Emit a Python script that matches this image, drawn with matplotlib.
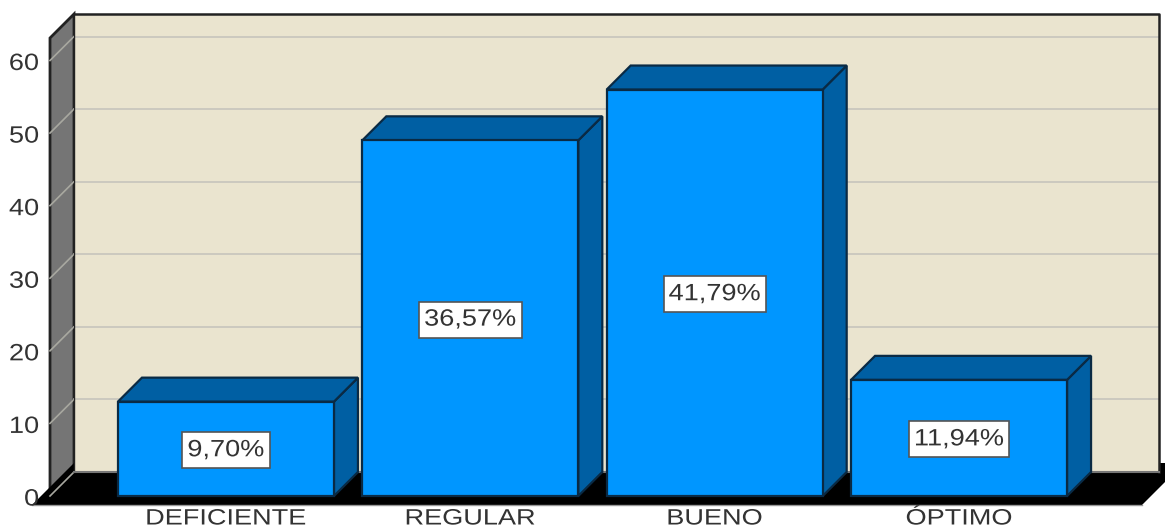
import matplotlib
matplotlib.use("Agg")
import matplotlib.pyplot as plt
from matplotlib.patches import Polygon, Rectangle
from matplotlib.patheffects import AbstractPathEffect
from matplotlib.transforms import Affine2D

categories = ["DEFICIENTE", "REGULAR", "BUENO", "ÓPTIMO"]
counts = [13, 49, 56, 16]
percent_labels = ["9,70%", "36,57%", "41,79%", "11,94%"]
y_ticks = [0, 10, 20, 30, 40, 50, 60]

W, H = 1165, 529
FRONT = "#0096FF"
DARK = "#005FA3"
WALL = "#EAE4CF"
SIDE = "#757575"
GRID = "#C6C4BC"
TEXT = "#333333"
STRETCH = 1.15

plt.rcParams["font.family"] = ["Liberation Sans", "DejaVu Sans"]


class Stretch(AbstractPathEffect):
    # the source image was scaled wider than tall, so widen the glyphs
    def __init__(self, sx, anchor=0.5):
        super().__init__()
        self.sx = sx
        self.anchor = anchor

    def draw_path(self, renderer, gc, tpath, affine, rgbFace=None):
        ext = tpath.get_extents(affine)
        x = ext.x0 + self.anchor * ext.width
        a = affine + Affine2D().translate(-x, 0).scale(self.sx, 1).translate(x, 0)
        renderer.draw_path(gc, tpath, a, rgbFace)


fig = plt.figure(figsize=(W / 100, H / 100), dpi=100)
# front plane of the fake 3d box, 50..1135 px wide, baseline at y=496
ax = fig.add_axes([50 / W, 1 - 496 / H, 1085 / W, 458 / H])
ax.set_xlim(-0.72, 3.72)
ax.set_ylim(0, 63.1)
ax.axis("off")

px_x = 4.44 / 1085
px_y = 63.1 / 458
# depth offset of 24 px in data units
dx = 24 * px_x
dy = 24 * px_y
x0, x1 = ax.get_xlim()
y_top = ax.get_ylim()[1]


def poly(points, face, edge="none", lw=0, z=1):
    ax.add_patch(Polygon(points, closed=True, facecolor=face, edgecolor=edge,
                         linewidth=lw, zorder=z, clip_on=False, joinstyle="miter"))


# side wall
poly([(x0, 0), (x0 + dx, dy), (x0 + dx, y_top + dy), (x0, y_top)], SIDE, "#222222", 2, 1)

# floor
floor_low = -9 * px_y
floor_high = dy + 9 * px_y
poly([(x0 + dx, floor_high), (x1 + dx + 25 * px_x, floor_high),
      (x1 + 7 * px_x, floor_low), (x0 - 18 * px_x, floor_low)], "black", z=2)
ax.plot([x0 - 18 * px_x, x1 + 7 * px_x], [floor_low, floor_low], color="#999999",
        lw=1, zorder=2, clip_on=False)

# back wall
poly([(x0 + dx, dy), (x1 + dx, dy), (x1 + dx, y_top + dy), (x0 + dx, y_top + dy)], WALL, z=3)
ax.plot([x0 + dx, x1 + dx], [dy, dy], color="#777777", lw=1.5, zorder=3.5, clip_on=False)
ax.plot([x0 + dx, x1 + dx, x1 + dx], [y_top + dy, y_top + dy, dy], color="#222222",
        lw=1.8, zorder=3.2, clip_on=False)
ax.plot([x0 + dx, x0 + dx], [dy, y_top + dy], color="#222222", lw=1, zorder=3.2, clip_on=False)

# gridlines on side wall and back wall
for v in y_ticks:
    ax.plot([x0, x0 + dx], [v, v + dy], color="#A8A8A0", lw=1.2, zorder=3.1, clip_on=False)
    if v > 0:
        ax.plot([x0 + dx, x1 + dx], [v + dy, v + dy], color=GRID, lw=1.2, zorder=3.1, clip_on=False)

renderer = fig.canvas.get_renderer()

# bars
bar_w = 216 * px_x
for i, (name, v, lab) in enumerate(zip(categories, counts, percent_labels)):
    l, r = i - bar_w / 2, i + bar_w / 2
    poly([(r, 0), (r + dx, dy), (r + dx, v + dy), (r, v)], DARK, "#0A2A44", 1.6, 4)
    poly([(l, v), (r, v), (r + dx, v + dy), (l + dx, v + dy)], DARK, "#0A2A44", 1.6, 4)
    poly([(l, 0), (r, 0), (r, v), (l, v)], FRONT, "#0A2A44", 1.6, 5)

    t = ax.text(i, v / 2 - 0.2, lab, ha="center", va="center", fontsize=17, color=TEXT, zorder=7,
                path_effects=[Stretch(STRETCH)])
    box_w = t.get_window_extent(renderer).width * STRETCH + 10
    ax.add_patch(Rectangle((i - box_w / 2 * px_x, v / 2 - 0.2 - 18 * px_y), box_w * px_x, 36 * px_y,
                           facecolor="white", edgecolor="#555555", linewidth=1.2, zorder=6))

    # category label, kept just clear of the bottom edge
    ax.text(i, -28.5 * px_y, name, ha="center", va="baseline", fontsize=16, color=TEXT,
            clip_on=False, path_effects=[Stretch(1.22)])

# value labels, a little below their gridline like the original
for v in y_ticks:
    ax.text(x0 - 11 * px_x, v - 3.5 * px_y, str(v), ha="right", va="center", fontsize=17, color=TEXT,
            zorder=10, clip_on=False, path_effects=[Stretch(STRETCH, anchor=1.0)])

fig.savefig("out.png", dpi=100, facecolor="white")
